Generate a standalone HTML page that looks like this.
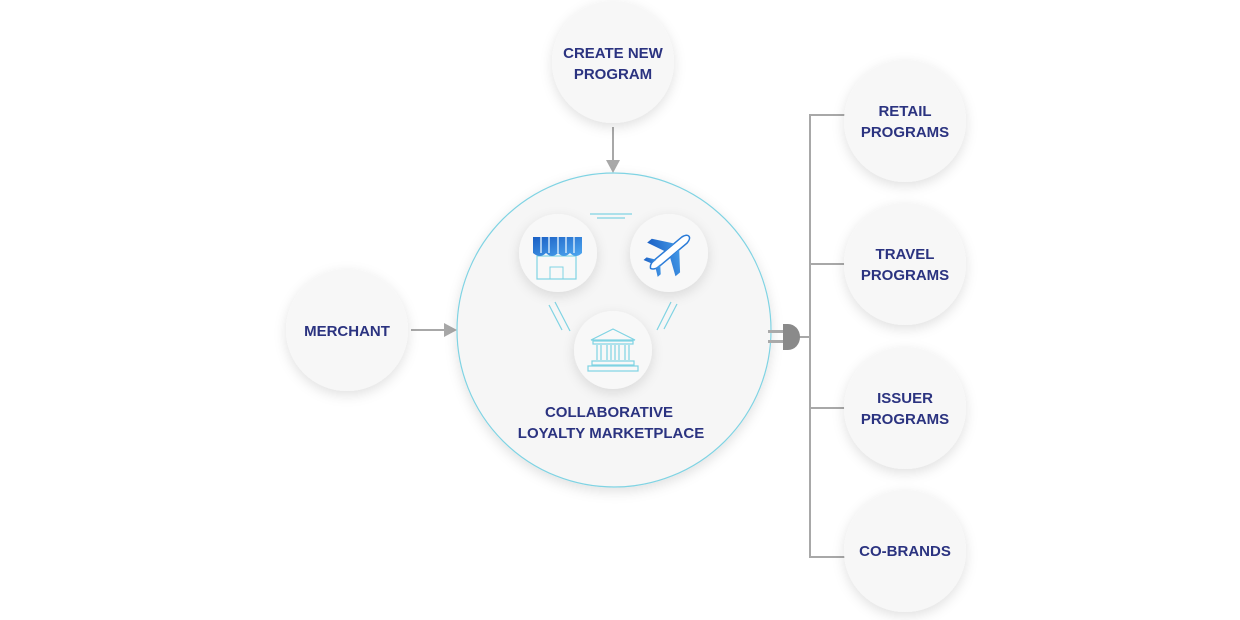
<!DOCTYPE html>
<html><head><meta charset="utf-8"><style>
html,body{margin:0;padding:0;background:#fff;}
svg{display:block;}
text{font-family:"Liberation Sans",sans-serif;font-weight:bold;fill:#2b3380;font-size:15px;text-anchor:middle;}
</style></head><body>
<svg width="1240" height="620" viewBox="0 0 1240 620" xmlns="http://www.w3.org/2000/svg">
<defs>
<filter id="sh" x="-30%" y="-30%" width="160%" height="160%"><feDropShadow dx="0" dy="4" stdDeviation="6" flood-color="#000" flood-opacity="0.12"/></filter>
<linearGradient id="bl" x1="0" y1="0" x2="1" y2="1"><stop offset="0" stop-color="#1a5fc4"/><stop offset="1" stop-color="#4fa8f0"/></linearGradient>
</defs>
<!-- connectors -->
<g stroke="#a8a8a8" stroke-width="2" fill="none">
<line x1="613" y1="127" x2="613" y2="166"/>
<line x1="411" y1="330" x2="450" y2="330"/>
<path d="M845 115 H810 V557 H845 M810 264 H845 M810 408 H845 M797 337 H810"/>
</g>
<polygon points="606,160 620,160 613,173" fill="#a8a8a8"/>
<polygon points="444,323 444,337 457,330" fill="#a8a8a8"/>
<!-- outer circles -->
<g fill="#f7f7f7" filter="url(#sh)">
<circle cx="613" cy="62" r="61"/>
<circle cx="347" cy="330" r="61"/>
<circle cx="905" cy="121" r="61"/>
<circle cx="905" cy="264" r="61"/>
<circle cx="905" cy="408" r="61"/>
<circle cx="905" cy="551" r="61"/>
</g>
<!-- big circle -->
<circle cx="614" cy="330" r="157" fill="#f6f6f6" stroke="#7fd3e3" stroke-width="1.2" filter="url(#sh)"/>
<!-- plug -->
<path d="M783 324 h5 a12 13 0 0 1 0 26 h-5 z" fill="#8a8a8a"/>
<rect x="768" y="330" width="15" height="3" fill="#aaa"/><rect x="768" y="340" width="15" height="3" fill="#aaa"/>
<!-- inner connectors -->
<g stroke="#7fd3e3" stroke-width="1.2">
<line x1="590" y1="214" x2="632" y2="214"/><line x1="597" y1="218" x2="625" y2="218"/>
<line x1="549" y1="305" x2="562" y2="330"/><line x1="555" y1="302" x2="570" y2="331"/>
<line x1="677" y1="304" x2="664" y2="329"/><line x1="671" y1="302" x2="657" y2="330"/>
</g>
<g fill="#f8f8f8" filter="url(#sh)">
<circle cx="558" cy="253" r="39"/>
<circle cx="669" cy="253" r="39"/>
<circle cx="613" cy="350" r="39"/>
</g>
<!-- store -->
<rect x="537" y="256" width="39" height="23" fill="none" stroke="#7fd3e3" stroke-width="1.2"/>
<rect x="550" y="267" width="13" height="12" fill="none" stroke="#7fd3e3" stroke-width="1"/>
<path d="M533 237 h49 v16 q-6 6 -12 0 q-6 6 -12 0 q-6 6 -12 0 q-6 6 -13 0 z" fill="url(#bl)"/>
<path d="M541 237 v16 M549 237 v16 M558 237 v16 M566 237 v16 M574 237 v16" stroke="#cfe6fa" stroke-width="1.5"/>
<!-- plane -->
<g transform="translate(669,253) rotate(-40)">
<path d="M-24 0 Q-22 -4 -16 -4 H20 Q26 -3 26 0 Q26 3 20 4 H-16 Q-22 4 -24 0z" fill="#fff" stroke="#2a7bd8" stroke-width="1.5"/>
<path d="M-2 -4 L-10 -22 L-4 -22 L10 -4 z M-2 4 L-10 22 L-4 22 L10 4 z" fill="url(#bl)"/>
<path d="M-20 -3 L-24 -11 L-20 -11 L-14 -3 z M-20 3 L-24 11 L-20 11 L-14 3z" fill="url(#bl)"/>
</g>
<!-- bank -->
<g fill="none" stroke="#7fd3e3" stroke-width="1.2">
<path d="M591 340 L613 329 L635 340 z"/><rect x="593" y="341" width="40" height="3"/>
<path d="M597 345 v15 M601 345 v15 M607 345 v15 M611 345 v15 M615 345 v15 M619 345 v15 M625 345 v15 M629 345 v15"/>
<rect x="592" y="361" width="42" height="4"/><rect x="588" y="366" width="50" height="5"/>
</g>
<!-- labels -->
<text x="613" y="58">CREATE NEW</text><text x="613" y="79">PROGRAM</text>
<text x="347" y="336">MERCHANT</text>
<text x="905" y="116">RETAIL</text><text x="905" y="137">PROGRAMS</text>
<text x="905" y="259">TRAVEL</text><text x="905" y="280">PROGRAMS</text>
<text x="905" y="403">ISSUER</text><text x="905" y="424">PROGRAMS</text>
<text x="905" y="556">CO-BRANDS</text>
<text x="609" y="417">COLLABORATIVE</text><text x="611" y="438">LOYALTY MARKETPLACE</text>
</svg>
</body></html>
